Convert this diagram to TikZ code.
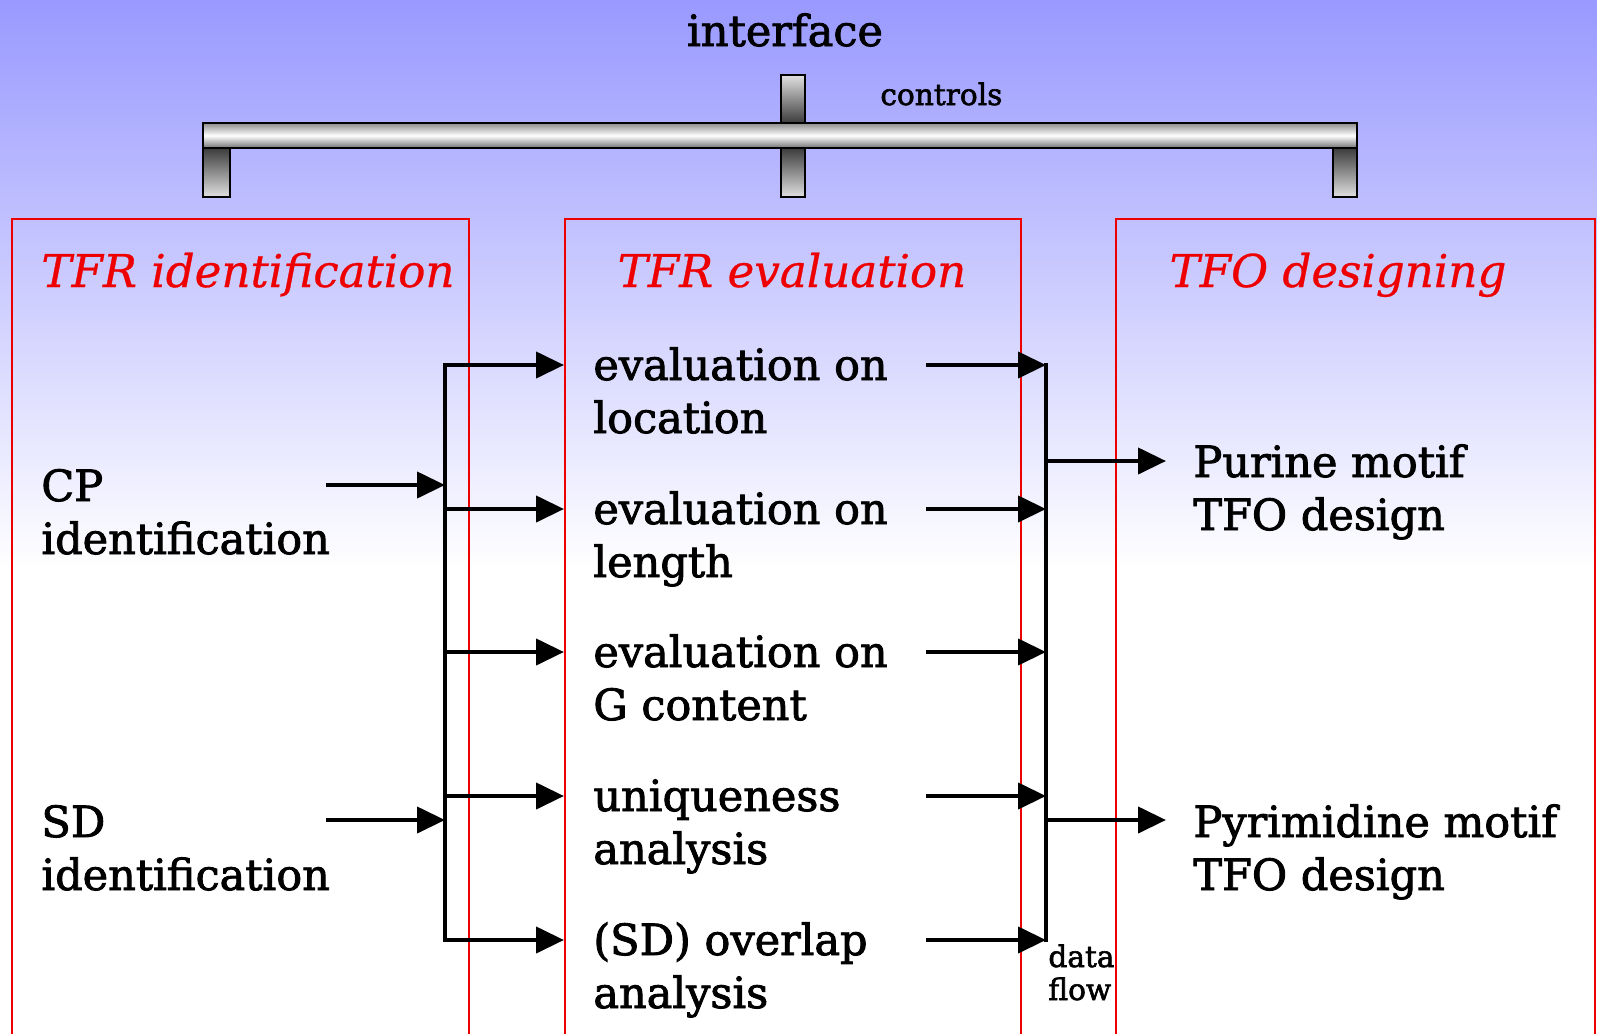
\documentclass[tikz,border=0pt]{standalone}
\usepackage{fontspec}
\setmainfont{DejaVu Serif}
\newfontfamily\heavyfont{DejaVu Serif}[FakeBold=2]
\newfontfamily\titlefont{DejaVu Serif}[FakeBold=0.6]
\usetikzlibrary{arrows.meta}
\definecolor{bgtop}{RGB}{153,153,255}
\definecolor{tred}{RGB}{238,0,0}
\tikzset{
  mainlbl/.style={anchor=base west, inner sep=0pt, font=\heavyfont\fontsize{21.5}{26}\selectfont},
  toplbl/.style={anchor=base, inner sep=0pt, font=\heavyfont\fontsize{21.5}{26}\selectfont},
  titlelbl/.style={anchor=base, inner sep=0pt, text=tred, font=\titlefont\fontsize{22.6}{28}\selectfont\itshape},
  smalllbl/.style={anchor=base west, inner sep=0pt, font=\heavyfont\fontsize{14.8}{17}\selectfont},
  flow/.style={line width=2.1pt, -{Triangle[length=14pt,width=13pt]}},
  busline/.style={line width=2.1pt, line cap=rect},
  frame/.style={draw=tred, line width=1.3pt},
  stubdown/.style={draw=black, line width=1.3pt, top color=black!78, bottom color=black!12},
  stubup/.style={draw=black, line width=1.3pt, top color=black!12, bottom color=black!78},
  barstyle/.style={draw=black, line width=1.3pt, top color=black!45, bottom color=black!55, middle color=white}
}
\begin{document}
\begin{tikzpicture}[x=0.5pt,y=-0.5pt]
\useasboundingbox (0,0) rectangle (1597,1034);
% background
\fill[white] (0,0) rectangle (1597,1034);
\shade[top color=bgtop, bottom color=white] (0,0) rectangle (1597,570);

% control bar
\path[stubdown] (203,147) rectangle (230,197);
\path[stubdown] (781,147) rectangle (805,197);
\path[stubdown] (1333,147) rectangle (1357,197);
\path[stubup] (781,75) rectangle (805,124);
\path[barstyle] (203,123) rectangle (1357,148);

\node[toplbl] (iface) at (785,46) {interface};
\node[smalllbl] (ctrl) at (880,105) {controls};

% frames
\draw[frame] (12,1040) -- (12,219) -- (469,219) -- (469,1040);
\draw[frame] (565,1040) -- (565,219) -- (1021,219) -- (1021,1040);
\draw[frame] (1116,1040) -- (1116,219) -- (1595,219) -- (1595,1040);

\node[titlelbl] (t1) at (248,287) {TFR identification};
\node[titlelbl] (t2) at (792,287) {TFR evaluation};
\node[titlelbl] (t3) at (1338,287) {TFO designing};

% left column
\node[mainlbl] (cp) at (41,501) {CP};
\node[mainlbl] (cpb) at (41,554) {identification};
\node[mainlbl] (sd) at (41,837) {SD};
\node[mainlbl] (sdb) at (41,890) {identification};

% middle column
\node[mainlbl] (e1) at (593,380) {evaluation on};
\node[mainlbl] (e1b) at (593,433) {location};
\node[mainlbl] (e2) at (593,524) {evaluation on};
\node[mainlbl] (e2b) at (593,577) {length};
\node[mainlbl] (e3) at (593,667) {evaluation on};
\node[mainlbl] (e3b) at (593,720) {G content};
\node[mainlbl] (e4) at (593,811) {uniqueness};
\node[mainlbl] (e4b) at (593,864) {analysis};
\node[mainlbl] (e5) at (593,955) {(SD) overlap};
\node[mainlbl] (e5b) at (593,1008) {analysis};

% right column
\node[mainlbl] (pu) at (1193,477) {Purine motif};
\node[mainlbl] (pub) at (1193,530) {TFO design};
\node[mainlbl] (py) at (1193,837) {Pyrimidine motif};
\node[mainlbl] (pyb) at (1193,890) {TFO design};

\node[smalllbl] (df) at (1048,967) {data};
\node[smalllbl] (dfb) at (1048,1000) {flow};

% connection points
\coordinate (cpout) at (326,485);
\coordinate (sdout) at (326,820);
\coordinate (lb0) at (445,485);
\coordinate (lbs) at (445,820);
\coordinate (lb1) at (445,365);
\coordinate (lb2) at (445,509);
\coordinate (lb3) at (445,652);
\coordinate (lb4) at (445,796);
\coordinate (lb5) at (445,940);
\coordinate (ei1) at (564,365);
\coordinate (ei2) at (564,509);
\coordinate (ei3) at (564,652);
\coordinate (ei4) at (564,796);
\coordinate (ei5) at (564,940);
\coordinate (eo1) at (926,365);
\coordinate (eo2) at (926,509);
\coordinate (eo3) at (926,652);
\coordinate (eo4) at (926,796);
\coordinate (eo5) at (926,940);
\coordinate (rb1) at (1046,365);
\coordinate (rb2) at (1046,509);
\coordinate (rb3) at (1046,652);
\coordinate (rb4) at (1046,796);
\coordinate (rb5) at (1046,940);
\coordinate (rbu) at (1046,461);
\coordinate (rby) at (1046,820);
\coordinate (pui) at (1166,461);
\coordinate (pyi) at (1166,820);

% buses
\draw[busline] (lb1) -- (lb5);
\draw[busline] (rb1) -- (rb5);

% arrows
\draw[flow] (cpout) -- (lb0);
\draw[flow] (sdout) -- (lbs);
\foreach \i in {1,...,5}{
  \draw[flow] (lb\i) -- (ei\i);
  \draw[flow] (eo\i) -- (rb\i);
}
\draw[flow] (rbu) -- (pui);
\draw[flow] (rby) -- (pyi);
\end{tikzpicture}
\end{document}
